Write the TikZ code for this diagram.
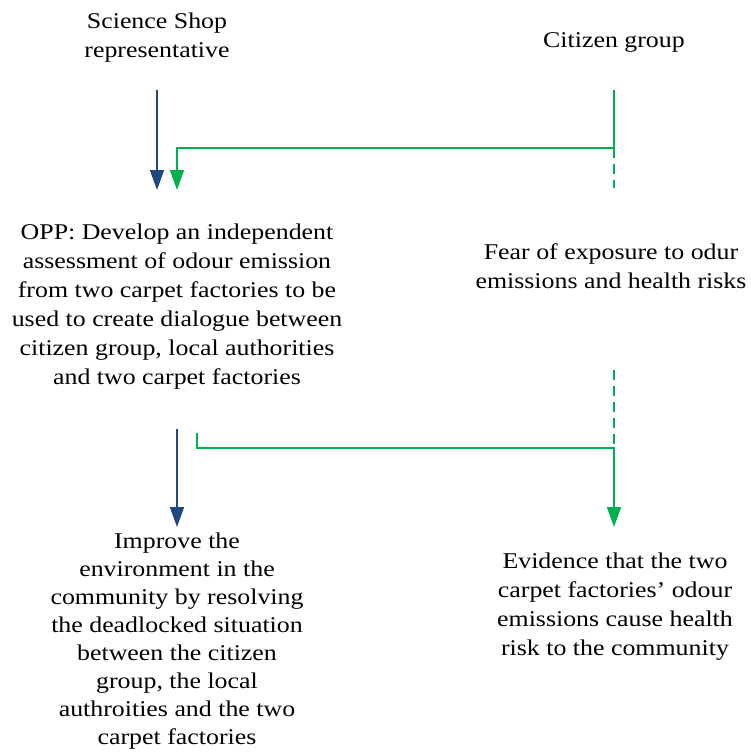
\documentclass[tikz,border=0pt]{standalone}
\usepackage{fontspec}
\setmainfont{Liberation Serif}[FakeStretch=1.15]
\usetikzlibrary{arrows.meta}
\definecolor{navy}{RGB}{31,73,125}
\definecolor{leaf}{RGB}{0,176,80}
\begin{document}
\begin{tikzpicture}[x=1pt,y=-1pt,
  lbl/.style={align=center,inner sep=0pt,font=\fontsize{22.5}{29}\selectfont},
  tip/.style={-{Triangle[length=20pt,width=14pt]}},
  bluearrow/.style={navy,line width=1.6pt,tip},
  greenline/.style={leaf,line width=1.6pt},
  greendash/.style={leaf,line width=1.6pt,dash pattern=on 10pt off 6pt}]
\useasboundingbox (0,0) rectangle (751,753);
% actors
\node[lbl] (shop) at (157,38) {Science Shop\\representative};
\node[lbl] (citizen) at (614,42) {Citizen group};
% goals and interests
\node[lbl] (opp) at (177,307) {OPP: Develop an independent\\assessment of odour emission\\from two carpet factories to be\\used to create dialogue between\\citizen group, local authorities\\and two carpet factories};
\node[lbl] (fear) at (611,266) {Fear of exposure to odur\\emissions and health risks};
\node[lbl,font=\fontsize{22.5}{28}\selectfont] (improve) at (177,641) {Improve the\\environment in the\\community by resolving\\the deadlocked situation\\between the citizen\\group, the local\\authroities and the two\\carpet factories};
\node[lbl] (evidence) at (615,607) {Evidence that the two\\carpet factories' odour\\emissions cause health\\risk to the community};
% connector anchors
\coordinate (s1) at (157,90);
\coordinate (s2) at (157,190);
\coordinate (c1) at (614,90);
\coordinate (c2) at (614,148);
\coordinate (c3) at (614,188);
\coordinate (g1) at (177,190);
\coordinate (o1) at (177,429);
\coordinate (o2) at (177,527);
\coordinate (o3) at (197,433);
\coordinate (f1) at (614,370);
\coordinate (f2) at (614,448);
\coordinate (f3) at (614,527);
% upper connectors
\draw[bluearrow] (s1) -- (s2);
\draw[greenline,tip] (c1) -- (c2) -| (g1);
\draw[greendash] (c2) -- (c3);
% lower connectors
\draw[bluearrow] (o1) -- (o2);
\draw[greendash] (f1) -- (f2);
\draw[greenline,tip] (o3) |- (f2) -- (f3);
\end{tikzpicture}
\end{document}
